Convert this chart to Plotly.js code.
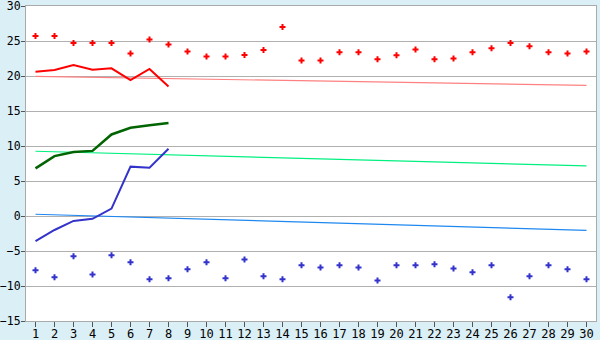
<!DOCTYPE html>
<html><head><meta charset="utf-8">
<script src="https://cdn.plot.ly/plotly-3.0.1.min.js"></script>
<style>html,body{margin:0;padding:0;background:#daeff6;}</style>
</head><body>
<div id="chart" style="width:600px;height:340px;"></div>
<script>
const days = [1,2,3,4,5,6,7,8,9,10,11,12,13,14,15,16,17,18,19,20,21,22,23,24,25,26,27,28,29,30];
const recordHigh = [25.7,25.7,24.7,24.7,24.7,23.2,25.2,24.5,23.5,22.8,22.8,23.0,23.7,27.0,22.2,22.2,23.4,23.4,22.4,22.95,23.8,22.4,22.5,23.4,23.95,24.7,24.25,23.4,23.2,23.5];
const recordLow = [-7.75,-8.75,-5.75,-8.35,-5.6,-6.6,-9.05,-8.9,-7.6,-6.6,-8.9,-6.2,-8.6,-9.05,-7.05,-7.35,-7.05,-7.35,-9.2,-7.05,-7.05,-6.9,-7.5,-8.05,-7.05,-11.6,-8.6,-7.05,-7.6,-9.05];
const obsDays = [1,2,3,4,5,6,7,8];
const obsHigh = [20.6,20.85,21.55,20.9,21.1,19.4,21.0,18.5];
const obsMean = [6.8,8.55,9.15,9.3,11.65,12.6,12.95,13.3];
const obsLow = [-3.6,-2.0,-0.7,-0.4,1.05,7.05,6.9,9.6];
const trendDays = [1,30];
const normHigh = [19.95,18.65];
const normMean = [9.25,7.15];
const normLow = [0.25,-2.05];
const yTicks = [-15,-10,-5,0,5,10,15,20,25,30];

const traces = [
  {x:trendDays,y:normHigh,mode:'lines',line:{color:'#ff8080',width:1.2},hoverinfo:'skip'},
  {x:trendDays,y:normMean,mode:'lines',line:{color:'#00f080',width:1.2},hoverinfo:'skip'},
  {x:trendDays,y:normLow,mode:'lines',line:{color:'#1e88f0',width:1.2},hoverinfo:'skip'},
  {x:days,y:recordHigh,mode:'markers',marker:{symbol:'cross',size:5,color:'#ff0000'}},
  {x:days,y:recordLow,mode:'markers',marker:{symbol:'cross',size:5,color:'#3333cc'}},
  {x:obsDays,y:obsHigh,mode:'lines',line:{color:'#ff0000',width:2}},
  {x:obsDays,y:obsMean,mode:'lines',line:{color:'#006400',width:2.5}},
  {x:obsDays,y:obsLow,mode:'lines',line:{color:'#3333cc',width:2}}
];
const layout = {
  width:600,height:340,
  margin:{l:26,r:4,t:6,b:19},
  paper_bgcolor:'#daeff6',plot_bgcolor:'#ffffff',
  showlegend:false,
  font:{family:'DejaVu Sans Mono',size:12,color:'#000000'},
  xaxis:{range:[0.5,30.5],tickvals:days,ticktext:days.map(String),showgrid:false,zeroline:false,
    showline:true,mirror:true,linecolor:'#aaaaaa',linewidth:1,ticks:'outside',ticklen:5,tickcolor:'#555555',
    ticklabelstandoff:-3,ticklabeloverflow:'allow',fixedrange:true},
  yaxis:{range:[-15,30],tickvals:yTicks,showgrid:true,gridcolor:'#b0b0b0',gridwidth:1,zeroline:false,
    showline:true,mirror:true,linecolor:'#aaaaaa',linewidth:1,ticks:'outside',ticklen:4,tickcolor:'#555555',
    tickfont:{family:'DejaVu Sans Mono',size:11.5,color:'#000000'},
    ticklabelstandoff:-2,ticklabeloverflow:'allow',fixedrange:true}
};
Plotly.newPlot('chart',traces,layout,{staticPlot:true});
</script>
</body></html>
